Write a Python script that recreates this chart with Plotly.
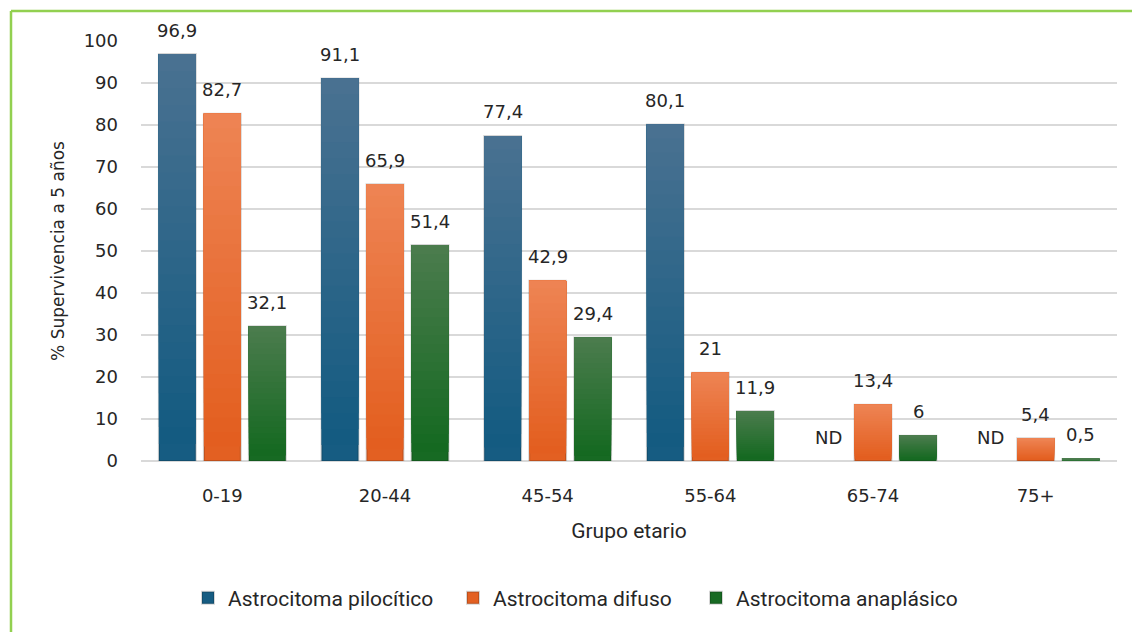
import plotly.graph_objects as go

# Grupos etarios y supervivencia a 5 años (%) por tipo de astrocitoma
grupos = ["0-19", "20-44", "45-54", "55-64", "65-74", "75+"]
pilocitico = [96.9, 91.1, 77.4, 80.1, None, None]
difuso = [82.7, 65.9, 42.9, 21, 13.4, 5.4]
anaplasico = [32.1, 51.4, 29.4, 11.9, 6, 0.5]

series = [
    ("Astrocitoma pilocítico", pilocitico, (16, 89, 128), (74, 114, 145)),
    ("Astrocitoma difuso", difuso, (226, 92, 28), (238, 132, 84)),
    ("Astrocitoma anaplásico", anaplasico, (17, 104, 30), (76, 124, 78)),
]

W, H = 1132, 632
ML, MR, MT, MB = 141, 15, 41, 171
BARGAP, GROUPGAP = 0.17, 0.18
N_LAYERS = 24
LABEL_FONT = dict(family="DejaVu Sans", size=18, color="#262626")
LEGEND_LEFT = [188, 453, 696]  # left edge of each legend entry, px
LEGEND_IDS = ["legend", "legend2", "legend3"]


def fmt(v):
    if v is None:
        return "ND"
    return f"{v:g}".replace(".", ",")


def mix(c0, c1, t):
    return "rgb(%d,%d,%d)" % tuple(round(a + (b - a) * t) for a, b in zip(c0, c1))


fig = go.Figure()
xs = list(range(len(grupos)))
slot = (1 - BARGAP) / len(series)
annotations = []

for j, (name, vals, c_bot, c_top) in enumerate(series):
    # vertical shading: stacked layers, each starting higher and lighter
    for k in range(N_LAYERS):
        frac = k / N_LAYERS
        base = [None if v is None else v * frac for v in vals]
        h = [None if v is None else v * (1 - frac) for v in vals]
        fig.add_trace(go.Bar(
            x=xs, y=h, base=base,
            name=name, offsetgroup=str(j),
            marker=dict(
                color=mix(c_bot, c_top, (k + 0.5) / N_LAYERS) if k else mix(c_bot, c_top, 0.1),
                line=dict(color="rgba(0,0,0,0.16)" if k == 0 else "rgba(0,0,0,0)",
                          width=2 if k == 0 else 0),
            ),
            showlegend=(k == 0), legendgroup=name, legend=LEGEND_IDS[j],
            hoverinfo="skip" if k else None,
        ))
    for i, v in enumerate(vals):
        annotations.append(dict(
            x=i + (j - 1) * slot, y=0 if v is None else v,
            xref="x", yref="y", text=fmt(v), showarrow=False,
            yshift=24, yanchor="middle", font=LABEL_FONT,
        ))

# light green frame around the chart
pw, ph = W - ML - MR, H - MT - MB
px = lambda p: (p - ML) / pw
py = lambda p: (H - MB - p) / ph
shapes = [
    dict(type="line", xref="paper", yref="paper", x0=px(11), x1=px(11),
         y0=py(11), y1=py(H + 10), line=dict(color="#92D050", width=2.5)),
    dict(type="line", xref="paper", yref="paper", x0=px(11), x1=px(W + 10),
         y0=py(11), y1=py(11), line=dict(color="#92D050", width=2.5)),
]

legends = {
    lid: dict(
        orientation="h", xref="container", yref="container",
        x=left / W, xanchor="left", y=1 - 598 / H, yanchor="middle",
        font=dict(family="Roboto", size=21, color="#262626"),
        itemwidth=30, bgcolor="rgba(0,0,0,0)",
    )
    for lid, left in zip(LEGEND_IDS, LEGEND_LEFT)
}

fig.update_layout(
    width=W, height=H,
    margin=dict(l=ML, r=MR, t=MT, b=MB),
    paper_bgcolor="white", plot_bgcolor="white",
    barmode="group", bargap=BARGAP, bargroupgap=GROUPGAP,
    annotations=annotations, shapes=shapes,
    xaxis=dict(
        tickvals=xs, ticktext=grupos, range=[-0.5, len(grupos) - 0.5],
        showgrid=False, zeroline=False, showline=False, ticks="",
        ticklabelstandoff=22,
        tickfont=dict(family="DejaVu Sans", size=18, color="#262626"),
        title=dict(text="Grupo etario", standoff=18,
                   font=dict(family="Roboto", size=21, color="#262626")),
    ),
    yaxis=dict(
        range=[0, 100], dtick=10, showgrid=True, gridcolor="#d9d9d9", gridwidth=2,
        zeroline=True, zerolinecolor="#d9d9d9", zerolinewidth=2,
        showline=False, ticks="", ticklabelstandoff=22,
        tickfont=dict(family="DejaVu Sans", size=18, color="#262626"),
        title=dict(text="% Supervivencia a 5 años", standoff=14,
                   font=dict(family="DejaVu Sans", size=17, color="#262626")),
    ),
    **legends,
)

fig.write_html("out.html")
